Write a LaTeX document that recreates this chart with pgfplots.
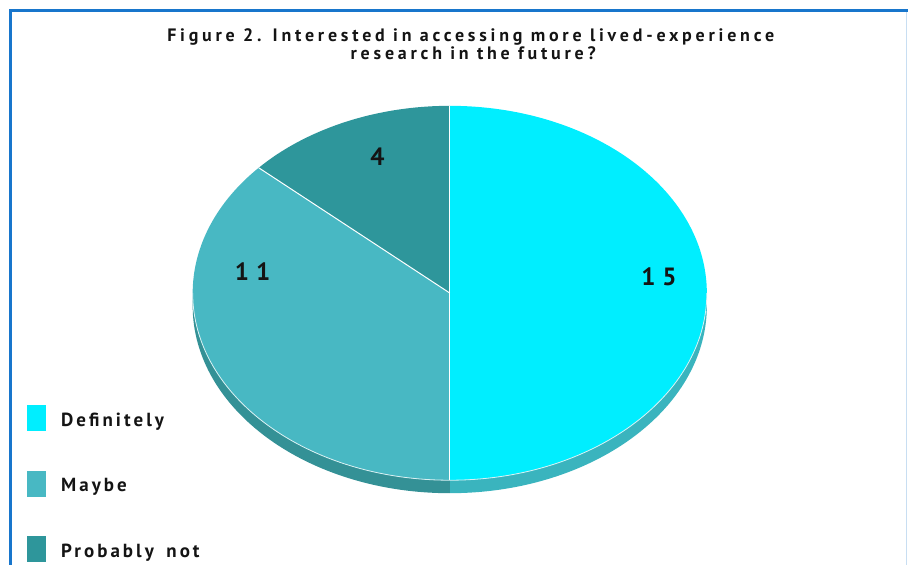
\documentclass[border=0pt]{standalone}
\usepackage{fontspec}
\setmainfont{PT Sans}
\newfontfamily\titlefont[LetterSpace=21]{PT Sans}
\newfontfamily\legfont[LetterSpace=16, WordSpace=1.6]{PT Sans}
\usepackage{pgfplots}
\pgfplotsset{compat=1.18}
\usepackage{pgfplotstable}

\definecolor{cDef}{RGB}{0,238,255}
\definecolor{cMay}{RGB}{72,184,195}
\definecolor{cProb}{RGB}{46,150,155}
\definecolor{sDef}{RGB}{58,180,190}
\definecolor{sMay}{RGB}{52,145,150}
\definecolor{frameblue}{RGB}{24,118,204}
\definecolor{framelight}{RGB}{200,222,242}
\definecolor{txt}{RGB}{20,20,20}

\pgfplotstableread[col sep=comma]{
label,value
Definitely,15
Maybe,11
Probably not,4
}\piedata

\pgfplotstablegetelem{0}{value}\of\piedata \edef\vA{\pgfplotsretval}
\pgfplotstablegetelem{1}{value}\of\piedata \edef\vB{\pgfplotsretval}
\pgfplotstablegetelem{2}{value}\of\piedata \edef\vC{\pgfplotsretval}
\pgfmathsetmacro\aA{90}
\pgfmathsetmacro\aB{\aA-360*\vA/(\vA+\vB+\vC)}
\pgfmathsetmacro\aC{\aB-360*\vB/(\vA+\vB+\vC)}
\pgfmathsetmacro\aD{\aC-360*\vC/(\vA+\vB+\vC)}

\tikzset{pie/.style={x radius=257.5pt, y radius=187.5pt}}

\begin{document}
\begin{tikzpicture}
\begin{axis}[
  scale only axis, width=909pt, height=566pt,
  xmin=0, xmax=909, ymin=0, ymax=566, y dir=reverse,
  enlargelimits=false, hide axis, clip=false,
]
\path (axis cs:0,0) rectangle (axis cs:909,566);
% frame
\draw[framelight, line width=1.5pt] (axis cs:908,12) -- (axis cs:908,566);
\draw[frameblue, line width=3pt] (axis cs:909,11) -- (axis cs:11,11) -- (axis cs:11,566);
% sides
\fill[sDef] (axis cs:450.5,293.5) ++(\aB:257.5pt and 187.5pt) arc[start angle=\aB, end angle=0, pie] -- ++(0,-13pt) arc[start angle=0, end angle=\aB, pie] -- cycle;
\fill[sMay] (axis cs:450.5,293.5) ++(-180:257.5pt and 187.5pt) arc[start angle=-180, end angle=\aB, pie] -- ++(0,-13pt) arc[start angle=\aB, end angle=-180, pie] -- cycle;
% top wedges
\fill[cDef] (axis cs:450.5,293.5) -- ++(\aA:257.5pt and 187.5pt) arc[start angle=\aA, end angle=\aB, pie] -- cycle;
\fill[cMay] (axis cs:450.5,293.5) -- ++(\aB:257.5pt and 187.5pt) arc[start angle=\aB, end angle=\aC, pie] -- cycle;
\fill[cProb] (axis cs:450.5,293.5) -- ++(\aC:257.5pt and 187.5pt) arc[start angle=\aC, end angle=\aD, pie] -- cycle;
% separators
\draw[white, line width=1pt] (axis cs:450.5,293.5) -- ++(\aA:257.5pt and 187.5pt);
\draw[white, line width=1pt] (axis cs:450.5,293.5) -- ++(\aB:257.5pt and 187.5pt);
\draw[white, line width=1pt] (axis cs:450.5,293.5) -- ++(\aC:257.5pt and 187.5pt);
\draw[white!80!cMay, line width=0.8pt] (axis cs:450.5,293.5) ++(-180:257.5pt and 187.5pt) arc[start angle=-180, end angle=0, pie];
% labels
\node[txt, font=\bfseries\fontsize{25}{25}\selectfont] at (axis cs:660,277) {1\kern7pt 5};
\node[txt, font=\bfseries\fontsize{25}{25}\selectfont] at (axis cs:253,272) {1\kern7pt 1};
\node[txt, font=\bfseries\fontsize{25}{25}\selectfont] at (axis cs:378,157) {4};
% title
\node[txt, anchor=base, inner sep=0pt, font=\titlefont\bfseries\fontsize{18}{20}\selectfont] at (axis cs:471.5,41.5) {Figure 2. Interested in accessing more lived-experience};
\node[txt, anchor=base, inner sep=0pt, font=\titlefont\bfseries\fontsize{18}{20}\selectfont] at (axis cs:474,59.5) {research in the future?};
% legend
\fill[cDef] (axis cs:27,406) rectangle (axis cs:46,432);
\fill[cMay] (axis cs:27,472) rectangle (axis cs:46,498);
\fill[cProb] (axis cs:27,537) rectangle (axis cs:46,563);
\node[txt, anchor=base west, inner sep=0pt, font=\legfont\bfseries\fontsize{19}{20}\selectfont] at (axis cs:61,427) {Definitely};
\node[txt, anchor=base west, inner sep=0pt, font=\legfont\bfseries\fontsize{19}{20}\selectfont] at (axis cs:61,492) {Maybe};
\node[txt, anchor=base west, inner sep=0pt, font=\legfont\bfseries\fontsize{19}{20}\selectfont] at (axis cs:61,558) {Probably not};
\end{axis}
\end{tikzpicture}
\end{document}
